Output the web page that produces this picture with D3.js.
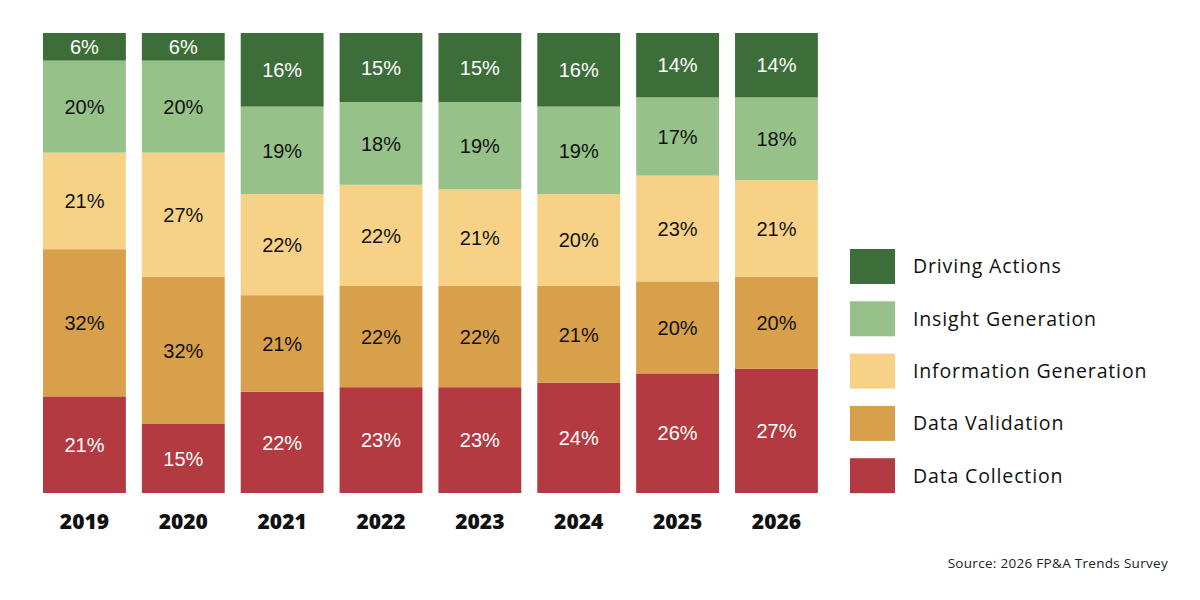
<!DOCTYPE html>
<html><head><meta charset="utf-8">
<script src="https://cdn.jsdelivr.net/npm/d3@7"></script>
<style>body{margin:0;background:#fff}svg{display:block}</style>
</head><body>
<svg id="c" width="1200" height="600"></svg>
<script>
const years = ["2019","2020","2021","2022","2023","2024","2025","2026"];
const seriesNames = ["Data Collection","Data Validation","Information Generation","Insight Generation","Driving Actions"];
const dataCollection = [21,15,22,23,23,24,26,27];
const dataValidation = [32,32,21,22,22,21,20,20];
const informationGeneration = [21,27,22,22,21,20,23,21];
const insightGeneration = [20,20,19,18,19,19,17,18];
const drivingActions = [6,6,16,15,15,16,14,14];
const colors = ["#b23a40","#d8a04a","#f7d286","#96c289","#3d6e3a"];
const labelColors = ["#fff","#111","#111","#111","#fff"];

const seriesVals = [dataCollection,dataValidation,informationGeneration,insightGeneration,drivingActions];
const rows = years.map((y,i)=>{const r={year:y};seriesNames.forEach((s,j)=>r[s]=seriesVals[j][i]);return r;});
const stack = d3.stack().keys(seriesNames)(rows);

const svg = d3.select("#c");
const step = 98.86;
const x2 = d3.scaleBand().domain(years).range([35, 35+step*8]).paddingInner(16/step).paddingOuter(8/step);
const y = d3.scaleLinear().domain([0,100]).range([493,33]);

const g = svg.append("g");
stack.forEach((layer,j)=>{
  const lg = g.append("g");
  lg.selectAll("rect").data(layer).join("rect")
    .attr("x",d=>x2(d.data.year)).attr("width",x2.bandwidth())
    .attr("y",d=>y(d[1])).attr("height",d=>y(d[0])-y(d[1]))
    .attr("fill",colors[j]);
  lg.selectAll("text").data(layer).join("text")
    .attr("x",d=>x2(d.data.year)+x2.bandwidth()/2)
    .attr("y",d=>(y(d[0])+y(d[1]))/2)
    .attr("dy","0.36em").attr("text-anchor","middle")
    .attr("font-family","Liberation Sans, Arial, sans-serif").attr("font-size",20)
    .attr("fill",labelColors[j])
    .text(d=>(d[1]-d[0])+"%");
});

const xAxis = d3.axisBottom(x2).tickSize(0).tickPadding(0);
const ax = svg.append("g").attr("transform","translate(0,522)").call(xAxis);
ax.select(".domain").remove();
ax.selectAll("text").attr("dy","0.35em").attr("font-family","Open Sans, DejaVu Sans, sans-serif")
  .attr("font-weight",800).attr("font-size",21).attr("fill","#111");

const legendOrder = seriesNames.slice().reverse();
const lgd = svg.append("g");
legendOrder.forEach((s,i)=>{
  const j = seriesNames.indexOf(s);
  const yy = 249 + i*52.3;
  lgd.append("rect").attr("x",850).attr("y",yy).attr("width",45).attr("height",35).attr("fill",colors[j]);
  lgd.append("text").attr("x",913).attr("y",yy+17.5).attr("dy","0.35em")
    .attr("font-family","Open Sans, Lato, sans-serif").attr("font-size",19.5)
    .attr("letter-spacing",0.85).attr("fill","#111").text(s);
});

svg.append("text").attr("x",1168).attr("y",563).attr("dy","0.35em").attr("text-anchor","end")
  .attr("font-family","Open Sans, sans-serif").attr("font-size",13.5).attr("letter-spacing",0.3).attr("fill","#222")
  .text("Source: 2026 FP&A Trends Survey");
</script>
</body></html>
